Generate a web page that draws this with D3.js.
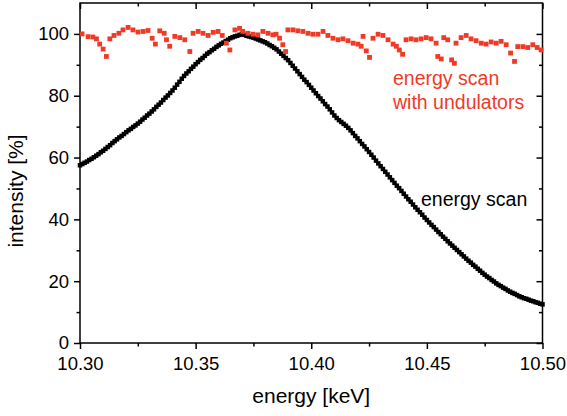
<!DOCTYPE html>
<html>
<head>
<meta charset="utf-8">
<script src="https://cdn.jsdelivr.net/npm/d3@7"></script>
<style>
  html, body { margin: 0; padding: 0; background: #fff; }
  svg { display: block; font-family: "Liberation Sans", Arial, Helvetica, sans-serif; }
</style>
</head>
<body>
<svg id="chart" width="567" height="416"></svg>
<script>
// ---------------- data ----------------
const energyStart = 10.300;   // keV, first point of the plain energy scan
const energyStep = 0.001;     // keV, scan step
// plain energy scan intensity [%], one value per step from 10.300 to 10.500 keV
const scanIntensity = [
  57.5, 57.9, 58.3, 58.7, 59.2, 59.6, 60.1, 60.6, 61.1, 61.7,
  62.2, 62.8, 63.4, 64.0, 64.7, 65.3, 65.9, 66.5, 67.0, 67.6,
  68.2, 68.8, 69.3, 69.9, 70.4, 71.0, 71.6, 72.3, 72.9, 73.6,
  74.2, 74.9, 75.6, 76.4, 77.1, 77.8, 78.6, 79.4, 80.1, 80.9,
  81.7, 82.6, 83.6, 84.5, 85.5, 86.4, 87.2, 87.9, 88.7, 89.4,
  90.2, 90.9, 91.6, 92.2, 92.9, 93.6, 94.1, 94.7, 95.2, 95.8,
  96.3, 96.8, 97.2, 97.7, 98.1, 98.6, 98.9, 99.2, 99.4, 99.7,
  100.0, 99.7, 99.4, 99.2, 99.0, 98.8, 98.5, 98.2, 97.9, 97.6,
  97.3, 96.9, 96.4, 96.0, 95.5, 95.0, 94.3, 93.6, 92.9, 92.2,
  91.5, 90.6, 89.7, 88.8, 87.9, 87.0, 86.1, 85.2, 84.4, 83.5,
  82.6, 81.7, 80.8, 79.9, 79.1, 78.2, 77.3, 76.5, 75.6, 74.6,
  73.6, 72.8, 72.1, 71.5, 70.9, 70.3, 69.6, 68.8, 67.9, 67.0,
  66.2, 65.3, 64.4, 63.6, 62.7, 61.8, 60.9, 60.0, 59.0, 58.1,
  57.2, 56.3, 55.4, 54.5, 53.6, 52.7, 51.8, 50.9, 50.1, 49.2,
  48.3, 47.4, 46.5, 45.7, 44.8, 43.9, 43.1, 42.3, 41.5, 40.6,
  39.8, 39.0, 38.2, 37.5, 36.7, 35.9, 35.2, 34.4, 33.7, 32.9,
  32.2, 31.5, 30.8, 30.1, 29.4, 28.7, 28.0, 27.3, 26.6, 26.0,
  25.3, 24.7, 24.0, 23.4, 22.7, 22.1, 21.5, 21.0, 20.4, 19.9,
  19.3, 18.8, 18.4, 17.9, 17.5, 17.0, 16.6, 16.2, 15.9, 15.5,
  15.1, 14.8, 14.5, 14.3, 14.0, 13.7, 13.5, 13.2, 13.0, 12.7,
  12.5
];

// energy scan with undulators
const undEnergy = [
  10.3009, 10.3035, 10.3056, 10.3071, 10.3085, 10.3100, 10.3114, 10.3129, 10.3147, 10.3168,
  10.3186, 10.3208, 10.3229, 10.3251, 10.3273, 10.3294, 10.3312, 10.3326, 10.3345, 10.3364,
  10.3374, 10.3388, 10.3410, 10.3432, 10.3453, 10.3475, 10.3489, 10.3511, 10.3532, 10.3554,
  10.3576, 10.3597, 10.3615, 10.3633, 10.3648, 10.3670, 10.3690, 10.3704, 10.3726, 10.3748,
  10.3769, 10.3791, 10.3813, 10.3834, 10.3848, 10.3863, 10.3877, 10.3889, 10.3899, 10.3921,
  10.3942, 10.3964, 10.3986, 10.4007, 10.4029, 10.4051, 10.4072, 10.4094, 10.4116, 10.4137,
  10.4159, 10.4181, 10.4202, 10.4216, 10.4224, 10.4238, 10.4252, 10.4267, 10.4289, 10.4310,
  10.4332, 10.4354, 10.4368, 10.4381, 10.4395, 10.4410, 10.4432, 10.4453, 10.4475, 10.4497,
  10.4518, 10.4540, 10.4547, 10.4562, 10.4573, 10.4590, 10.4607, 10.4619, 10.4626, 10.4648,
  10.4670, 10.4691, 10.4713, 10.4735, 10.4756, 10.4778, 10.4800, 10.4821, 10.4843, 10.4862,
  10.4879, 10.4893, 10.4915, 10.4936, 10.4958, 10.4977, 10.4994
];
const undIntensity = [
  100.0, 99.1, 99.0, 98.4, 96.7, 95.1, 92.7, 98.4, 99.5, 100.2,
  101.3, 102.1, 101.3, 100.6, 100.8, 101.1, 98.6, 96.7, 101.0, 100.2,
  98.1, 96.0, 99.2, 98.8, 98.1, 94.3, 100.2, 100.8, 100.2, 99.5,
  100.5, 100.8, 99.5, 97.0, 94.8, 101.3, 101.8, 100.8, 100.2, 99.9,
  99.7, 100.8, 100.2, 99.7, 99.9, 98.6, 96.5, 94.3, 101.3, 101.3,
  101.0, 100.8, 100.2, 99.9, 99.9, 100.8, 99.5, 98.6, 98.1, 98.4,
  97.8, 97.0, 96.7, 96.0, 99.2, 94.5, 92.4, 98.6, 99.9, 99.5,
  98.1, 96.7, 96.0, 94.8, 93.4, 98.1, 98.4, 98.1, 98.4, 98.8,
  98.4, 97.0, 92.7, 91.9, 98.8, 98.1, 91.6, 90.5, 97.0, 98.8,
  99.5, 98.4, 97.8, 97.0, 96.7, 97.4, 97.0, 97.6, 96.5, 93.8,
  91.1, 95.9, 95.9, 95.6, 96.5, 95.6, 94.8
];

const xTicks = [10.30, 10.35, 10.40, 10.45, 10.50];
const xMinorTicks = [10.325, 10.375, 10.425, 10.475];
const yTicks = [0, 20, 40, 60, 80, 100];
const yMinorTicks = [10, 30, 50, 70, 90];

const xTitle = "energy [keV]";
const yTitle = "intensity [%]";
const scanLabel = "energy scan";
const undLabel = ["energy scan", "with undulators"];

// ---------------- layout ----------------
const svg = d3.select("#chart");
const pL = 80, pR = 542.5, pT = 3, pB = 343;
const x = d3.scaleLinear().domain([10.30, 10.50]).range([pL, pR]);
const y = d3.scaleLinear().domain([0, 110]).range([pB, pT]);

const black = "#000";
const red = "#f03a26";
const fontTick = 18.5;

// frame
svg.append("rect")
  .attr("x", pL).attr("y", pT)
  .attr("width", pR - pL).attr("height", pB - pT)
  .attr("fill", "none").attr("stroke", black).attr("stroke-width", 1.5);

function styleAxis(g) {
  g.select(".domain").remove();
  g.selectAll(".tick line").attr("stroke", black).attr("stroke-width", 1.5);
  g.selectAll(".tick text").attr("fill", black)
    .attr("font-size", fontTick)
    .attr("font-family", '"Liberation Sans", Arial, Helvetica, sans-serif');
}

// bottom axis
svg.append("g").attr("transform", `translate(0,${pB})`)
  .call(d3.axisBottom(x).tickValues(xTicks).tickFormat(d3.format(".2f")).tickSize(6).tickPadding(8))
  .call(styleAxis);
svg.append("g").attr("transform", `translate(0,${pB})`)
  .call(d3.axisBottom(x).tickValues(xMinorTicks).tickFormat("").tickSize(3.5))
  .call(styleAxis);
// top axis (inward)
svg.append("g").attr("transform", `translate(0,${pT})`)
  .call(d3.axisBottom(x).tickValues(xTicks).tickFormat("").tickSize(6))
  .call(styleAxis);
svg.append("g").attr("transform", `translate(0,${pT})`)
  .call(d3.axisBottom(x).tickValues(xMinorTicks).tickFormat("").tickSize(3.5))
  .call(styleAxis);
// left axis
svg.append("g").attr("transform", `translate(${pL},0)`)
  .call(d3.axisLeft(y).tickValues(yTicks).tickFormat(d3.format("d")).tickSize(6).tickPadding(5))
  .call(styleAxis);
svg.append("g").attr("transform", `translate(${pL},0)`)
  .call(d3.axisLeft(y).tickValues(yMinorTicks).tickFormat("").tickSize(3.5))
  .call(styleAxis);
// right axis (inward)
svg.append("g").attr("transform", `translate(${pR},0)`)
  .call(d3.axisLeft(y).tickValues(yTicks).tickFormat("").tickSize(6))
  .call(styleAxis);
svg.append("g").attr("transform", `translate(${pR},0)`)
  .call(d3.axisLeft(y).tickValues(yMinorTicks).tickFormat("").tickSize(3.5))
  .call(styleAxis);

// axis titles
svg.append("text")
  .attr("x", (pL + pR) / 2).attr("y", 403)
  .attr("text-anchor", "middle").attr("font-size", 21).attr("fill", black)
  .text(xTitle);
svg.append("text")
  .attr("transform", `translate(23,191) rotate(-90)`)
  .attr("text-anchor", "middle").attr("font-size", 21).attr("fill", black)
  .text(yTitle);

// data
const ms = 4.5;
const scan = scanIntensity.map((v, i) => ({ e: energyStart + i * energyStep, v }));
svg.append("g").selectAll("rect").data(scan).join("rect")
  .attr("x", d => x(d.e) - ms / 2).attr("y", d => y(d.v) - ms / 2)
  .attr("width", ms).attr("height", ms).attr("fill", black);

const ms2 = 4.8;
const und = undEnergy.map((e, i) => ({ e, v: undIntensity[i] }));
svg.append("g").selectAll("rect").data(und).join("rect")
  .attr("x", d => x(d.e) - ms2 / 2).attr("y", d => y(d.v) - ms2 / 2)
  .attr("width", ms2).attr("height", ms2).attr("fill", red);

// annotations
svg.append("text").attr("x", 421).attr("y", 206)
  .attr("font-size", 19.5).attr("fill", black).text(scanLabel);
svg.append("text").attr("x", 393).attr("y", 85)
  .attr("font-size", 19.5).attr("fill", red).text(undLabel[0]);
svg.append("text").attr("x", 393).attr("y", 108.5)
  .attr("font-size", 19.5).attr("fill", red).text(undLabel[1]);
</script>
</body>
</html>
